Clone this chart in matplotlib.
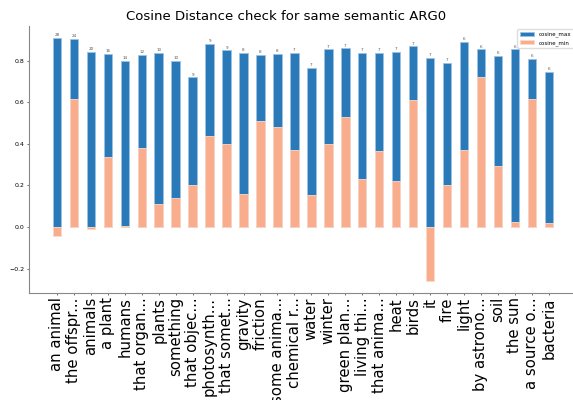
import numpy as np
import matplotlib
matplotlib.use("Agg")
import matplotlib.pyplot as plt

# phrases (ARG0) and their cosine stats
labels = ["an animal", "the offspr...", "animals", "a plant", "humans",
          "that organ...", "plants", "something", "that objec...", "photosynth...",
          "that somet...", "gravity", "friction", "some anima...", "chemical r...",
          "water", "winter", "green plan...", "living thi...", "that anima...",
          "heat", "birds", "it", "fire", "light",
          "by astrono...", "soil", "the sun", "a source o...", "bacteria"]

cosine_max = [0.91, 0.905, 0.845, 0.835, 0.80, 0.83, 0.84, 0.80, 0.72, 0.88,
              0.85, 0.84, 0.83, 0.835, 0.84, 0.765, 0.855, 0.86, 0.84, 0.84,
              0.845, 0.87, 0.815, 0.79, 0.89, 0.855, 0.825, 0.855, 0.81, 0.745]

cosine_min = [-0.045, 0.615, -0.01, 0.335, 0.005, 0.38, 0.11, 0.14, 0.20, 0.44,
              0.40, 0.16, 0.51, 0.48, 0.37, 0.155, 0.40, 0.53, 0.23, 0.365,
              0.22, 0.61, -0.258, 0.20, 0.37, 0.72, 0.295, 0.025, 0.615, 0.02]

counts = [28, 24, 20, 16, 14, 12, 10, 10, 9, 9,
          9, 8, 8, 8, 7, 7, 7, 7, 7, 7,
          7, 7, 7, 7, 6, 6, 6, 6, 6, 6]

x = np.arange(len(labels))

fig = plt.figure(figsize=(5.73, 4.0), dpi=100)
ax = fig.add_axes([0.0506, 0.2675, 0.956, 0.6675])

ax.bar(x, cosine_max, width=0.5, color="#2a7ab9", edgecolor="#9cc3e4",
       linewidth=0.6, label="cosine_max")
ax.bar(x, cosine_min, width=0.5, color="#f9ad8d", edgecolor="#fdd9c8",
       linewidth=0.6, label="cosine_min")

# number of samples on top of each bar
for xi, v, c in zip(x, cosine_max, counts):
    ax.text(xi, v + 0.004, str(c), ha="center", va="bottom", fontsize=3,
            color="#555555")

ax.set_xlim(-1.65, 30.65)
ax.set_ylim(-0.318, 0.968)
ax.set_xticks(x)
ax.set_xticklabels(labels, rotation=90, fontsize=10.7)
ax.set_yticks([-0.2, 0.0, 0.2, 0.4, 0.6, 0.8])
ax.tick_params(axis="y", labelsize=4.5, length=1.5, width=0.4, pad=1.5)
ax.tick_params(axis="x", length=1.5, width=0.4, pad=1.5)
for s in ["top", "right"]:
    ax.spines[s].set_visible(False)
for s in ["left", "bottom"]:
    ax.spines[s].set_color("#888888")
    ax.spines[s].set_linewidth(0.8)

ax.set_title("Cosine Distance check for same semantic ARG0", fontsize=9.5,
             pad=4, x=0.469)
ax.legend(loc="upper right", fontsize=4, frameon=True, handlelength=2.5,
          borderpad=0.5, framealpha=1, edgecolor="#dddddd")

fig.savefig("out.png", dpi=100)
